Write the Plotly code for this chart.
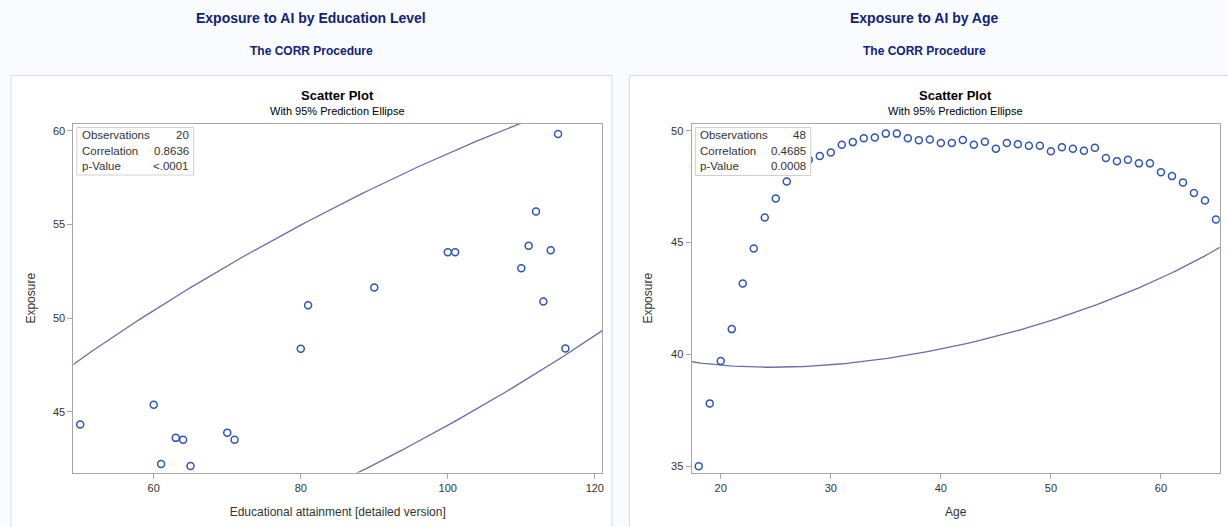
import numpy as np
import plotly.graph_objects as go

# ---------------- data ----------------
edu_x = [50, 60, 61, 63, 64, 65, 70, 71, 80, 81, 90, 100, 101, 110, 111, 112, 113, 114, 115, 116]
edu_y = [44.32, 45.37, 42.20, 43.60, 43.50, 42.10, 43.88, 43.50, 48.36, 50.68, 51.64,
         53.52, 53.52, 52.66, 53.87, 55.69, 50.89, 53.62, 59.83, 48.38]

age_x = [18, 19, 20, 21, 22, 23, 24, 25, 26, 27, 28, 29, 30, 31, 32, 33, 34, 35, 36, 37,
         38, 39, 40, 41, 42, 43, 44, 45, 46, 47, 48, 49, 50, 51, 52, 53, 54, 55, 56, 57,
         58, 59, 60, 61, 62, 63, 64, 65]
age_y = [35.00, 37.81, 39.70, 41.13, 43.17, 44.73, 46.12, 46.97, 47.73, 48.23, 48.70, 48.87,
         49.03, 49.37, 49.49, 49.66, 49.70, 49.87, 49.87, 49.66, 49.57, 49.61, 49.45, 49.45,
         49.58, 49.37, 49.51, 49.19, 49.45, 49.40, 49.33, 49.33, 49.08, 49.26, 49.19, 49.10,
         49.24, 48.78, 48.64, 48.70, 48.54, 48.54, 48.14, 47.97, 47.69, 47.22, 46.88, 46.03]

stat_labels = ["Observations", "Correlation", "p-Value"]
edu_stats = ["20", "0.8636", "<.0001"]
age_stats = ["48", "0.4685", "0.0008"]

edu_ticks_x = [60, 80, 100, 120]
edu_ticks_y = [45, 50, 55, 60]
age_ticks_x = [20, 30, 40, 50, 60]
age_ticks_y = [35, 40, 45, 50]

W, H = 1228, 527
FONT = "Arial, Liberation Sans, Helvetica, sans-serif"
TITLE_COLOR = "#112277"
MARKER_COLOR = "#2E55B0"
ELLIPSE_COLOR = "#6470A6"
AXIS_COLOR = "#A6A6A6"
TEXT_COLOR = "#333333"


def pred_ellipse(x, y, level=0.95, npts=600):
    x = np.asarray(x, float)
    y = np.asarray(y, float)
    n = len(x)
    m = n - 2
    S = np.cov(np.vstack([x, y]))
    F = (m / 2.0) * ((1 - level) ** (-2.0 / m) - 1.0)   # F quantile, (2, m) df
    c2 = 2.0 * (n - 1) * (n + 1) / (n * m) * F
    vals, vecs = np.linalg.eigh(S)
    t = np.linspace(0, 2 * np.pi, npts)
    circ = np.vstack([np.cos(t), np.sin(t)])
    pts = vecs @ (np.sqrt(vals * c2)[:, None] * circ)
    return pts[0] + x.mean(), pts[1] + y.mean()


def px(v):
    return v / W


def py(v):
    return 1 - v / H


fig = go.Figure()

ex, ey = pred_ellipse(edu_x, edu_y)
ax_, ay_ = pred_ellipse(age_x, age_y)

fig.add_trace(go.Scatter(x=ex, y=ey, mode="lines", line=dict(color=ELLIPSE_COLOR, width=1.3),
                         xaxis="x", yaxis="y", hoverinfo="skip", showlegend=False))
fig.add_trace(go.Scatter(x=edu_x, y=edu_y, mode="markers",
                         marker=dict(symbol="circle-open", size=7, color=MARKER_COLOR,
                                     line=dict(width=1.5, color=MARKER_COLOR)),
                         xaxis="x", yaxis="y", showlegend=False))
fig.add_trace(go.Scatter(x=ax_, y=ay_, mode="lines", line=dict(color=ELLIPSE_COLOR, width=1.3),
                         xaxis="x2", yaxis="y2", hoverinfo="skip", showlegend=False))
fig.add_trace(go.Scatter(x=age_x, y=age_y, mode="markers",
                         marker=dict(symbol="circle-open", size=7, color=MARKER_COLOR,
                                     line=dict(width=1.5, color=MARKER_COLOR)),
                         xaxis="x2", yaxis="y2", showlegend=False))

L_plot = (73.5, 603.0)
R_plot = (692.7, 1221.7)
Y_plot = (124.0, 472.5)

axis_common = dict(showline=True, mirror=True, linecolor=AXIS_COLOR, linewidth=1,
                   ticks="outside", ticklen=5, tickcolor=AXIS_COLOR, tickwidth=1,
                   showgrid=False, zeroline=False,
                   tickfont=dict(family=FONT, size=11, color=TEXT_COLOR))

fig.update_layout(
    width=W, height=H, autosize=False,
    margin=dict(l=0, r=0, t=0, b=0),
    paper_bgcolor="#FAFBFE", plot_bgcolor="white",
    font=dict(family=FONT, color=TEXT_COLOR),
    xaxis=dict(domain=[px(L_plot[0]), px(L_plot[1])], range=[49.07, 120.98],
               tickvals=edu_ticks_x, anchor="y",
               title=dict(text="Educational attainment [detailed version]",
                          font=dict(family=FONT, size=12, color=TEXT_COLOR), standoff=14),
               **axis_common),
    yaxis=dict(domain=[py(Y_plot[1]), py(Y_plot[0])], range=[41.75, 60.37],
               tickvals=edu_ticks_y, anchor="x",
               title=dict(text="Exposure", font=dict(family=FONT, size=12, color=TEXT_COLOR),
                          standoff=14),
               **axis_common),
    xaxis2=dict(domain=[px(R_plot[0]), px(R_plot[1])], range=[17.35, 65.34],
                tickvals=age_ticks_x, anchor="y2",
                title=dict(text="Age", font=dict(family=FONT, size=12, color=TEXT_COLOR), standoff=14),
                **axis_common),
    yaxis2=dict(domain=[py(Y_plot[1]), py(Y_plot[0])], range=[34.72, 50.3],
                tickvals=age_ticks_y, anchor="x2",
                title=dict(text="Exposure", font=dict(family=FONT, size=12, color=TEXT_COLOR),
                           standoff=15),
                **axis_common),
)

shapes = []
# graph frames (white panels)
shapes.append(dict(type="rect", xref="paper", yref="paper", x0=px(11), x1=px(613),
                   y0=-0.02, y1=py(75.5), fillcolor="white",
                   line=dict(color="#DCDCDC", width=1), layer="below"))
shapes.append(dict(type="rect", xref="paper", yref="paper", x0=px(630.5), x1=1.02,
                   y0=-0.02, y1=py(75.5), fillcolor="white",
                   line=dict(color="#DCDCDC", width=1), layer="below"))

annotations = []


def stats_box(xr, yr, values, plot_x, box_px):
    # box_px: (left, right, top, bottom) in page pixels
    wpx = plot_x[1] - plot_x[0]
    hpx = Y_plot[1] - Y_plot[0]
    l, r, t, b = box_px
    x0 = (l - plot_x[0]) / wpx
    x1 = (r - plot_x[0]) / wpx
    y1 = 1 - (t - Y_plot[0]) / hpx
    y0 = 1 - (b - Y_plot[0]) / hpx
    shapes.append(dict(type="rect", xref=xr + " domain", yref=yr + " domain",
                       x0=x0, x1=x1, y0=y0, y1=y1, fillcolor="white",
                       line=dict(color="#CFCFCF", width=1), layer="above"))
    for i, (lab, val) in enumerate(zip(stat_labels, values)):
        yy = 1 - (t + 7.5 + 15.5 * i - Y_plot[0]) / hpx
        annotations.append(dict(xref=xr + " domain", yref=yr + " domain",
                                x=(l + 3 - plot_x[0]) / wpx, y=yy, text=lab,
                                showarrow=False, xanchor="left", yanchor="middle",
                                font=dict(family=FONT, size=11.5, color=TEXT_COLOR)))
        annotations.append(dict(xref=xr + " domain", yref=yr + " domain",
                                x=(r - 2.5 - plot_x[0]) / wpx, y=yy, text=val,
                                showarrow=False, xanchor="right", yanchor="middle",
                                font=dict(family=FONT, size=11.5, color=TEXT_COLOR)))


stats_box("x", "y", edu_stats, L_plot, (77, 194, 127.5, 175))
stats_box("x2", "y2", age_stats, R_plot, (696.5, 812, 127.5, 175.5))


def ptext(x, y, text, size, bold=False, color=TEXT_COLOR):
    annotations.append(dict(xref="paper", yref="paper", x=px(x), y=py(y),
                            text=f"<b>{text}</b>" if bold else text, showarrow=False,
                            xanchor="center", yanchor="middle",
                            font=dict(family=FONT, size=size, color=color)))


ptext(312, 18, "Exposure to AI by Education Level", 14, True, TITLE_COLOR)
ptext(312, 51, "The CORR Procedure", 12, True, TITLE_COLOR)
ptext(926, 18, "Exposure to AI by Age", 14, True, TITLE_COLOR)
ptext(926, 51, "The CORR Procedure", 12, True, TITLE_COLOR)

ptext((L_plot[0] + L_plot[1]) / 2, 96, "Scatter Plot", 13, True, "#000000")
ptext((L_plot[0] + L_plot[1]) / 2, 111, "With 95% Prediction Ellipse", 11, False, "#000000")
ptext((R_plot[0] + R_plot[1]) / 2, 96, "Scatter Plot", 13, True, "#000000")
ptext((R_plot[0] + R_plot[1]) / 2, 111, "With 95% Prediction Ellipse", 11, False, "#000000")

fig.update_layout(shapes=shapes, annotations=annotations)

fig.write_html("out.html", config={"displayModeBar": False},
               post_script="document.body.style.margin='0';document.body.style.padding='0';"
                           "document.body.style.overflow='hidden';")
